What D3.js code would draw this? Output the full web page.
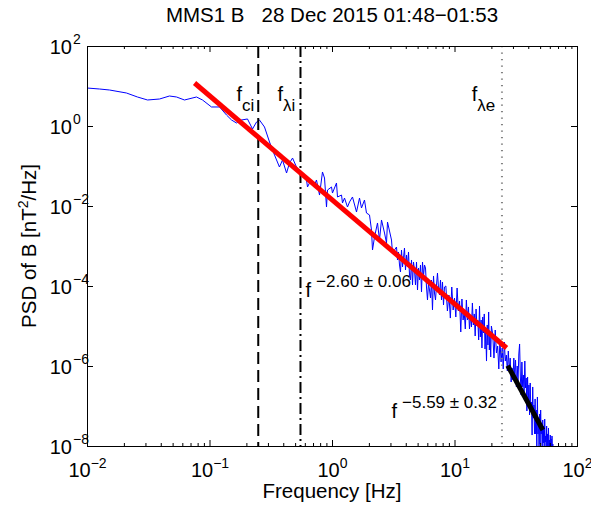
<!DOCTYPE html>
<html lang="en">
<head>
<meta charset="UTF-8">
<title>MMS1 B PSD</title>
<script src="https://d3js.org/d3.v7.min.js"></script>
<style>
  body { margin: 0; background: #fff; }
  svg { display: block; font-family: "Liberation Sans", Arial, Helvetica, sans-serif; }
  text { fill: #000; }
</style>
</head>
<body>
<svg id="chart" width="591" height="508"></svg>
<script>
// PSD of B in three pieces (Hz, nT^2/Hz)
const lowFreqHz = [0.01, 0.01265, 0.01528, 0.0210, 0.0258, 0.0312, 0.0391, 0.0471, 0.0538, 0.0625,
  0.0783, 0.0877, 0.1038, 0.1208, 0.1377, 0.1514, 0.1660, 0.1824, 0.2042, 0.2244,
  0.2421, 0.2559, 0.2812, 0.3090, 0.3396, 0.3724, 0.3945, 0.4256, 0.4498, 0.4764,
  0.5129, 0.5636, 0.5964, 0.6194, 0.631];
const lowPsd = [8.91, 8.41, 7.94, 6.68, 5.31, 4.47, 4.73, 5.62, 5.31, 4.47,
  5.31, 4.47, 2.99, 2.99, 1.88, 1.41, 1.19, 1.41, 1.50, 0.841,
  1.26, 1.41, 0.944, 0.398, 0.188, 0.0944, 0.141, 0.0668, 0.119, 0.158,
  0.0944, 0.0668, 0.0596, 0.0447, 0.0299];

const midFreqHz = [0.655, 0.680, 0.720, 0.747, 0.791, 0.836, 0.869, 0.902, 0.919, 0.991,
  1.009, 1.088, 1.109, 1.196, 1.218, 1.265, 1.338, 1.390, 1.470, 1.585,
  1.677, 1.741, 1.842, 1.912, 2.024, 2.101, 2.141, 2.223, 2.352, 2.442,
  2.536, 2.684, 2.786, 2.839, 3.060, 3.118, 3.362, 3.425, 3.491, 3.557,
  3.625, 3.693, 3.763, 3.835, 3.906, 3.981, 4.057, 4.134, 4.212, 4.293,
  4.373, 4.457, 4.542, 4.627, 4.716, 4.804, 4.896, 4.989, 5.083, 5.179,
  5.278, 5.379, 5.481, 5.584, 5.690, 5.799, 5.907, 6.019, 6.135, 6.251,
  6.370, 6.490, 6.613, 6.741, 6.866, 6.998, 7.133, 7.262, 7.404, 7.543,
  7.687, 7.834, 7.980, 8.134, 8.286];
const midPsd = [3.76e-2, 3.98e-2, 3.35e-2, 4.47e-2, 1.88e-2, 7.08e-2, 5.01e-2, 9.44e-3, 2.51e-2, 2.99e-2,
  2.11e-2, 3.76e-2, 1.68e-2, 1.88e-2, 1.19e-2, 1.58e-2, 9.44e-3, 1.26e-2, 1.68e-2, 7.08e-3,
  1.58e-2, 8.91e-3, 1.41e-2, 6.68e-3, 5.96e-3, 2.51e-3, 7.94e-4, 1.68e-3, 3.76e-3, 1.41e-3,
  4.47e-3, 2.11e-3, 1.19e-3, 3.98e-3, 1.41e-3, 6.68e-4, 9.44e-4, 4.47e-4, 7.08e-4, 3.35e-4,
  2.24e-4, 7.94e-4, 2.99e-4, 5.01e-4, 8.91e-4, 2.51e-4, 5.96e-4, 2.99e-4, 7.08e-4, 1.88e-4,
  1.41e-4, 4.47e-4, 1.06e-4, 3.98e-4, 2.51e-4, 1.06e-4, 3.98e-4, 7.94e-5, 2.82e-4, 1.41e-4,
  3.35e-4, 7.08e-5, 3.98e-4, 1.78e-4, 3.35e-4, 2.82e-4, 9.44e-5, 4.47e-5, 1.19e-4, 7.94e-5,
  5.01e-5, 1.41e-4, 2.51e-5, 1.78e-4, 6.68e-5, 4.47e-5, 1.06e-4, 2.11e-4, 8.91e-5, 5.96e-5,
  1.41e-4, 4.47e-5, 1.26e-4, 3.35e-5, 9.44e-5];

const highFreqHz = [8.5, 8.75, 9, 9.25, 9.5, 9.75, 10, 10.25, 10.5, 10.75,
  11, 11.25, 11.5, 11.75, 12, 12.25, 12.5, 12.75, 13, 13.25,
  13.5, 13.75, 14, 14.25, 14.5, 14.75, 15, 15.25, 15.5, 15.75,
  16, 16.25, 16.5, 16.75, 17, 17.25, 17.5, 17.75, 18, 18.25,
  18.5, 18.75, 19, 19.25, 19.5, 19.75, 20,
  20.5, 21, 21.5, 22, 22.5, 23, 23.5, 24, 24.5, 25,
  25.5, 26, 26.5, 27, 27.5, 28, 28.5, 29, 29.5, 30,
  30.5, 31, 31.5, 32, 32.5, 33, 33.5, 34, 34.5, 35,
  35.5, 36, 36.5, 37, 37.5, 38, 38.5, 39, 39.5, 40,
  40.5, 41, 41.5, 42, 42.5, 43, 43.5, 44, 44.5, 45,
  45.5, 46, 46.5, 47, 47.5, 48, 48.5, 49, 49.5, 50,
  50.5, 51, 51.5, 52, 52.5, 53, 53.5, 54, 54.5, 55,
  55.5, 56, 56.5, 57, 57.5, 58, 58.5, 59, 59.5, 60,
  60.5, 61, 61.5, 62, 62.5, 63, 63.5, 64, 64.5, 65];
const highPsd = [1e-4, 2.37e-5, 5.96e-5, 1.58e-5, 9.44e-5, 2.51e-5, 5.01e-5, 1.68e-5, 8.91e-5, 2.37e-5,
  4.22e-5, 7.08e-6, 4.73e-5, 1.41e-5, 2.24e-5, 8.41e-6, 4.47e-5, 1.41e-5, 2.99e-5, 8.41e-6,
  1.88e-5, 9.44e-6, 3.76e-5, 1.06e-5, 2.00e-5, 5.62e-6, 2.66e-5, 1e-5, 1.41e-5, 4.47e-6,
  3.16e-5, 5.31e-6, 1.41e-5, 2.82e-6, 1.68e-5, 6.68e-6, 2.00e-5, 2.66e-6, 7.08e-6, 1.33e-6,
  1.06e-5, 3.35e-6, 2.24e-5, 2.51e-6, 6.68e-6, 1.68e-6, 1e-5,
  6.31e-6, 1.58e-6, 7.94e-6, 2.11e-6, 3.16e-6, 8.41e-7, 4.47e-6, 1.26e-6, 2.82e-6, 8.41e-7,
  3.98e-6, 1.33e-6, 1.88e-6, 7.50e-7, 2.37e-6, 7.50e-7, 1.58e-6, 3.98e-7, 8.91e-7, 4.47e-7,
  1.58e-6, 5.62e-7, 1.41e-6, 2.99e-7, 1e-6, 3.98e-7, 2.00e-6, 3.55e-6, 5.31e-7, 1.88e-7,
  1.26e-6, 2.99e-7, 5.96e-7, 1.88e-7, 1.33e-6, 2.82e-7, 5.01e-7, 7.50e-8, 5.31e-7, 1.19e-7,
  3.35e-7, 5.96e-8, 3.76e-7, 7.08e-8, 1.26e-7, 1.88e-8, 2.99e-7, 5.01e-8, 1.06e-7, 2.00e-8,
  1.50e-7, 2.00e-8, 7.94e-8, 7.08e-9, 1.68e-7, 2.00e-8, 4.47e-8, 8.91e-9, 6.31e-8, 1.12e-8,
  7.94e-8, 2.00e-8, 3.35e-8, 7.08e-9, 4.47e-8, 1.19e-8, 3.16e-8, 8.41e-9, 4.73e-8, 1.26e-8,
  1.78e-8, 6.68e-9, 3.16e-8, 8.41e-9, 2.00e-8, 7.50e-9, 2.82e-8, 8.91e-9, 1.41e-8, 5.96e-9,
  1.88e-8, 7.50e-9, 1.50e-8, 5.62e-9, 1.78e-8, 7.50e-9, 1.12e-8, 4.73e-9, 7.94e-9, 3.55e-9];

// power-law fits (end points)
const fitFreq = [0.0755, 26.6];
const fitPsd = [11.9, 2.82e-6];
const steepFreq = [27.2, 52.6];
const steepPsd = [1.02e-6, 2.51e-8];
const slopeTexts = ['\u22122.60 \u00b1 0.06', '\u22125.59 \u00b1 0.32'];

// characteristic frequencies: f_ci, f_lambda_i, f_lambda_e
const markerFreq = [0.25, 0.553, 24.4];
const markerSub = ['ci', '\u03bbi', '\u03bbe'];

const xTickExps = [-2, -1, 0, 1, 2];
const yTickExps = [2, 0, -2, -4, -6, -8];

const title = 'MMS1 B   28 Dec 2015 01:48\u221201:53';

const width = 591, height = 508;
const margin = {top: 46, right: 14, bottom: 62, left: 87};

const x = d3.scaleLog().domain([1e-2, 1e2]).range([margin.left, width - margin.right]);
const y = d3.scaleLog().domain([1e-8, 1e2]).range([height - margin.bottom, margin.top]);

const svg = d3.select('#chart');
const plotW = width - margin.left - margin.right;
const plotH = height - margin.top - margin.bottom;

svg.append('clipPath').attr('id', 'plot-clip')
  .append('rect')
  .attr('x', margin.left).attr('y', margin.top)
  .attr('width', plotW + 1).attr('height', plotH + 1);

const allPsd = lowPsd.concat(midPsd, highPsd);
const spectrum = lowFreqHz.concat(midFreqHz, highFreqHz)
  .map((f, i) => ({f: f, p: allPsd[i]}));

const line = d3.line().x(d => x(d.f)).y(d => y(d.p));

// spectrum
svg.append('path')
  .datum(spectrum)
  .attr('clip-path', 'url(#plot-clip)')
  .attr('fill', 'none')
  .attr('stroke', '#0000ff')
  .attr('stroke-width', 1)
  .attr('d', line);

// vertical markers
const markerStyles = [
  {stroke: '#000', width: 2, dash: '12,6'},
  {stroke: '#000', width: 2, dash: '11,4,2,4'},
  {stroke: '#808080', width: 2, dash: '1.2,5.3'}
];
svg.append('g').selectAll('line')
  .data(markerFreq)
  .join('line')
  .attr('x1', d => x(d)).attr('x2', d => x(d))
  .attr('y1', margin.top).attr('y2', margin.top + plotH)
  .attr('stroke', (d, i) => markerStyles[i].stroke)
  .attr('stroke-width', (d, i) => markerStyles[i].width)
  .attr('stroke-dasharray', (d, i) => markerStyles[i].dash);

// fits
const fitLine = d3.line().x(d => x(d[0])).y(d => y(d[1]));
svg.append('path')
  .attr('d', fitLine(fitFreq.map((f, i) => [f, fitPsd[i]])))
  .attr('stroke', '#ff0000').attr('stroke-width', 5).attr('fill', 'none');
svg.append('path')
  .attr('d', fitLine(steepFreq.map((f, i) => [f, steepPsd[i]])))
  .attr('stroke', '#000').attr('stroke-width', 5).attr('fill', 'none');

// axes: ticks point inward on all four sides
const xMajor = xTickExps.map(e => Math.pow(10, e));
const xMinor = x.ticks().filter(t => !xMajor.some(m => Math.abs(m - t) < 1e-12));
const yMajor = yTickExps.map(e => Math.pow(10, e));
const noDomain = g => g.select('.domain').remove();

svg.append('g').attr('transform', `translate(0,${margin.top + plotH})`)
  .call(d3.axisBottom(x).tickValues(xMajor).tickSize(-6).tickFormat('')).call(noDomain);
svg.append('g').attr('transform', `translate(0,${margin.top + plotH})`)
  .call(d3.axisBottom(x).tickValues(xMinor).tickSize(-3).tickFormat('')).call(noDomain);
svg.append('g').attr('transform', `translate(0,${margin.top})`)
  .call(d3.axisTop(x).tickValues(xMajor).tickSize(-6).tickFormat('')).call(noDomain);
svg.append('g').attr('transform', `translate(0,${margin.top})`)
  .call(d3.axisTop(x).tickValues(xMinor).tickSize(-3).tickFormat('')).call(noDomain);
svg.append('g').attr('transform', `translate(${margin.left},0)`)
  .call(d3.axisLeft(y).tickValues(yMajor).tickSize(-6).tickFormat('')).call(noDomain);
svg.append('g').attr('transform', `translate(${margin.left + plotW},0)`)
  .call(d3.axisRight(y).tickValues(yMajor).tickSize(-6).tickFormat('')).call(noDomain);

svg.append('rect')
  .attr('x', margin.left + 0.5).attr('y', margin.top + 0.5)
  .attr('width', plotW).attr('height', plotH)
  .attr('fill', 'none').attr('stroke', '#000').attr('stroke-width', 1);

const expText = e => (e < 0 ? '\u2212' : '') + Math.abs(e);

// x tick labels
svg.append('g').selectAll('text')
  .data(xTickExps)
  .join('text')
  .attr('x', d => x(Math.pow(10, d)) + 0.5)
  .attr('y', 477)
  .attr('text-anchor', 'middle')
  .attr('font-size', 20)
  .each(function (d) {
    const t = d3.select(this);
    t.append('tspan').text('10');
    t.append('tspan').attr('dy', -9).attr('font-size', 14).text(expText(d));
  });

// y tick labels: "10" right-aligned, exponent hanging after it
const yLab = svg.append('g');
yLab.selectAll('text.base')
  .data(yTickExps)
  .join('text')
  .attr('class', 'base')
  .attr('x', 72)
  .attr('y', d => y(Math.pow(10, d)) + 7.5)
  .attr('text-anchor', 'end')
  .attr('font-size', 20)
  .text('10');
yLab.selectAll('text.exp')
  .data(yTickExps)
  .join('text')
  .attr('class', 'exp')
  .attr('x', 73)
  .attr('y', d => y(Math.pow(10, d)) - 2.5)
  .attr('font-size', 14)
  .text(d => expText(d));

// title and axis labels
svg.append('text')
  .attr('x', margin.left + plotW / 2).attr('y', 22)
  .attr('text-anchor', 'middle')
  .attr('font-size', 20.5)
  .style('white-space', 'pre')
  .text(title);

svg.append('text')
  .attr('x', margin.left + plotW / 2).attr('y', 498)
  .attr('text-anchor', 'middle')
  .attr('font-size', 20.5)
  .text('Frequency [Hz]');

const yTitle = svg.append('text')
  .attr('transform', `translate(36,${margin.top + plotH / 2}) rotate(-90)`)
  .attr('text-anchor', 'middle')
  .attr('font-size', 20.5);
yTitle.append('tspan').text('PSD of B [nT');
yTitle.append('tspan').attr('dy', -8).attr('font-size', 14).text('2');
yTitle.append('tspan').attr('dy', 8).text('/Hz]');

// marker labels
const markerLabelAt = [[0.166, 4.2], [0.359, 4.2], [13.8, 4.2]];
svg.append('g').selectAll('text')
  .data(markerSub)
  .join('text')
  .attr('x', (d, i) => x(markerLabelAt[i][0]))
  .attr('y', (d, i) => y(markerLabelAt[i][1]))
  .attr('font-size', 20)
  .each(function (d) {
    const t = d3.select(this);
    t.append('tspan').text('f');
    t.append('tspan').attr('dy', 10).attr('font-size', 17).text(d);
  });

// slope labels
const slopeLabelAt = [[0.608, 5.31e-5], [3.06, 5.01e-8]];
svg.append('g').selectAll('text')
  .data(slopeTexts)
  .join('text')
  .attr('x', (d, i) => x(slopeLabelAt[i][0]))
  .attr('y', (d, i) => y(slopeLabelAt[i][1]))
  .attr('font-size', 20)
  .style('white-space', 'pre')
  .each(function (d) {
    const t = d3.select(this);
    t.append('tspan').text('f');
    t.append('tspan').attr('dx', 5).attr('dy', -10).attr('font-size', 17).text(d);
  });
</script>
</body>
</html>
